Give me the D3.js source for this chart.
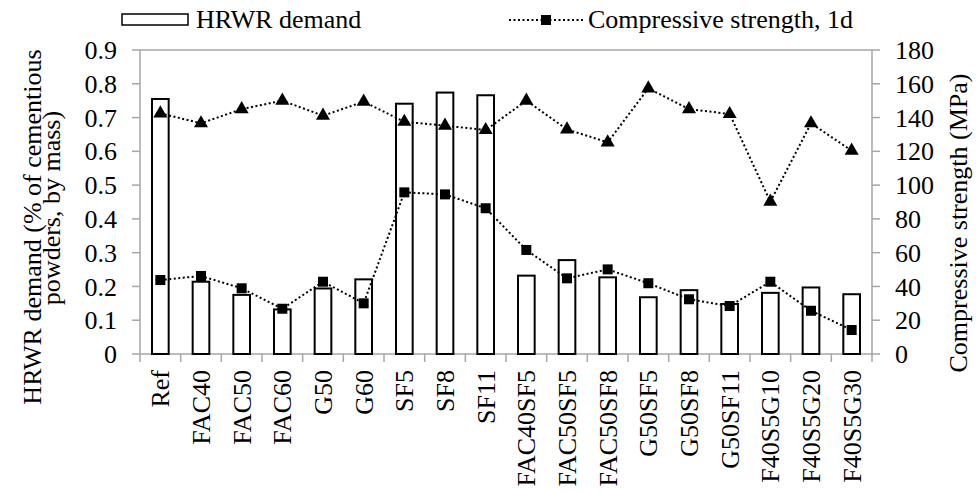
<!DOCTYPE html>
<html lang='en'>
	<head>
		<title>HRWR demand and compressive strength</title>
		<meta charset=utf-8>
		<script src="https://cdn.jsdelivr.net/npm/d3@7/dist/d3.min.js" charset="utf-8"></script>
		<style>
			body {
				margin: 0;
				background-color: white;
			}
			text {
				font-family: "Liberation Serif", "Times New Roman", Times, serif;
				font-size: 26px;
				fill: black;
			}
			.axisline {
				stroke: #a6a6a6;
				stroke-width: 1.5;
			}
			.bar {
				fill: white;
				stroke: black;
				stroke-width: 2;
			}
			.dotted {
				fill: none;
				stroke: black;
				stroke-width: 2;
				stroke-dasharray: 2,2.5;
			}
		</style>
	</head>
	<body>
		<svg id='chart' width="976" height="492"></svg>
	</body>

	<script>
		// data
		var categories = ['Ref', 'FAC40', 'FAC50', 'FAC60', 'G50', 'G60', 'SF5', 'SF8', 'SF11',
			'FAC40SF5', 'FAC50SF5', 'FAC50SF8', 'G50SF5', 'G50SF8', 'G50SF11', 'F40S5G10', 'F40S5G20', 'F40S5G30'];
		var hrwr = [0.755, 0.214, 0.175, 0.132, 0.194, 0.221, 0.741, 0.774, 0.766,
			0.232, 0.278, 0.227, 0.168, 0.189, 0.148, 0.181, 0.197, 0.177];
		var strength1d = [43.8, 46.2, 38.9, 26.8, 42.8, 30.0, 95.7, 94.5, 86.3,
			61.6, 44.8, 50.1, 41.9, 32.4, 28.4, 42.8, 25.6, 14.2];
		var strength28d = [142.5, 136.6, 145.0, 150.0, 141.1, 149.4, 137.5, 135.2, 132.6,
			150.0, 133.0, 125.3, 157.3, 145.0, 142.1, 90.2, 136.6, 120.4];
		var leftTicks = [0, 0.1, 0.2, 0.3, 0.4, 0.5, 0.6, 0.7, 0.8, 0.9];
		var rightTicks = [0, 20, 40, 60, 80, 100, 120, 140, 160, 180];

		// plot area
		var L = 140, R = 872, T = 50, B = 354;
		var svg = d3.select('#chart');

		var x = d3.scaleBand().domain(categories).range([L, R]);
		var yl = d3.scaleLinear().domain([0, 0.9]).range([B, T]);
		var yr = d3.scaleLinear().domain([0, 180]).range([B, T]);

		// frame lines
		svg.append('line').attr('class', 'axisline').attr('x1', L).attr('x2', R).attr('y1', T).attr('y2', T);
		svg.append('line').attr('class', 'axisline').attr('x1', L).attr('x2', R).attr('y1', B).attr('y2', B);
		svg.append('line').attr('class', 'axisline').attr('x1', L).attr('x2', L).attr('y1', T).attr('y2', B);
		svg.append('line').attr('class', 'axisline').attr('x1', R).attr('x2', R).attr('y1', T).attr('y2', B);

		// left ticks + labels
		leftTicks.forEach(function(t) {
			svg.append('line').attr('class', 'axisline').attr('x1', L - 8).attr('x2', L).attr('y1', yl(t)).attr('y2', yl(t));
			svg.append('text').attr('x', L - 23).attr('y', yl(t)).attr('dy', '0.35em').attr('text-anchor', 'end')
				.text(t === 0 ? '0' : t.toFixed(1));
		});

		// right ticks + labels
		rightTicks.forEach(function(t) {
			svg.append('line').attr('class', 'axisline').attr('x1', R).attr('x2', R + 8).attr('y1', yr(t)).attr('y2', yr(t));
			svg.append('text').attr('x', R + 23).attr('y', yr(t)).attr('dy', '0.35em').attr('text-anchor', 'start').text(t);
		});

		// category ticks between bands
		for (var i = 0; i <= categories.length; i = i + 1) {
			var xt = L + i * x.step();
			svg.append('line').attr('class', 'axisline').attr('x1', xt).attr('x2', xt).attr('y1', B).attr('y2', B + 8);
		}

		// category labels
		categories.forEach(function(c) {
			var cx = x(c) + x.bandwidth() / 2;
			svg.append('text').attr('transform', 'translate(' + cx + ',' + (B + 16) + ') rotate(-90)')
				.attr('dy', '0.35em').attr('text-anchor', 'end').text(c);
		});

		// bars
		var bw = x.bandwidth() * 0.41;
		categories.forEach(function(c, i) {
			svg.append('rect').attr('class', 'bar')
				.attr('x', x(c) + (x.bandwidth() - bw) / 2).attr('width', bw)
				.attr('y', yl(hrwr[i])).attr('height', B - yl(hrwr[i]));
		});

		// lines
		var lineGen = d3.line().x(function(d, i) { return x(categories[i]) + x.bandwidth() / 2; }).y(function(d) { return yr(d); });
		svg.append('path').attr('class', 'dotted').attr('d', lineGen(strength28d));
		svg.append('path').attr('class', 'dotted').attr('d', lineGen(strength1d));

		// markers
		var tri = d3.symbol().type(d3.symbolTriangle).size(85);
		strength28d.forEach(function(v, i) {
			svg.append('path').attr('d', tri)
				.attr('transform', 'translate(' + (x(categories[i]) + x.bandwidth() / 2) + ',' + yr(v) + ')').attr('fill', 'black');
		});
		var sq = 10;
		strength1d.forEach(function(v, i) {
			svg.append('rect').attr('x', x(categories[i]) + x.bandwidth() / 2 - sq / 2).attr('y', yr(v) - sq / 2)
				.attr('width', sq).attr('height', sq).attr('fill', 'black');
		});

		// axis titles
		svg.append('text').attr('transform', 'translate(41,227) rotate(-90)').attr('text-anchor', 'middle')
			.text('HRWR demand (% of cementious');
		svg.append('text').attr('transform', 'translate(60,208) rotate(-90)').attr('text-anchor', 'middle')
			.text('powders, by mass)');
		svg.append('text').attr('transform', 'translate(967,223) rotate(-90)').attr('text-anchor', 'middle')
			.text('Compressive strength (MPa)');

		// legend
		svg.append('rect').attr('x', 122).attr('y', 14).attr('width', 66).attr('height', 11)
			.attr('fill', 'white').attr('stroke', 'black').attr('stroke-width', 1.5);
		svg.append('text').attr('x', 196).attr('y', 28).text('HRWR demand');
		svg.append('line').attr('class', 'dotted').attr('x1', 509).attr('x2', 584).attr('y1', 20).attr('y2', 20);
		svg.append('rect').attr('x', 541).attr('y', 15).attr('width', sq).attr('height', sq).attr('fill', 'black');
		svg.append('text').attr('x', 588).attr('y', 28).text('Compressive strength, 1d');
	</script>
</html>
